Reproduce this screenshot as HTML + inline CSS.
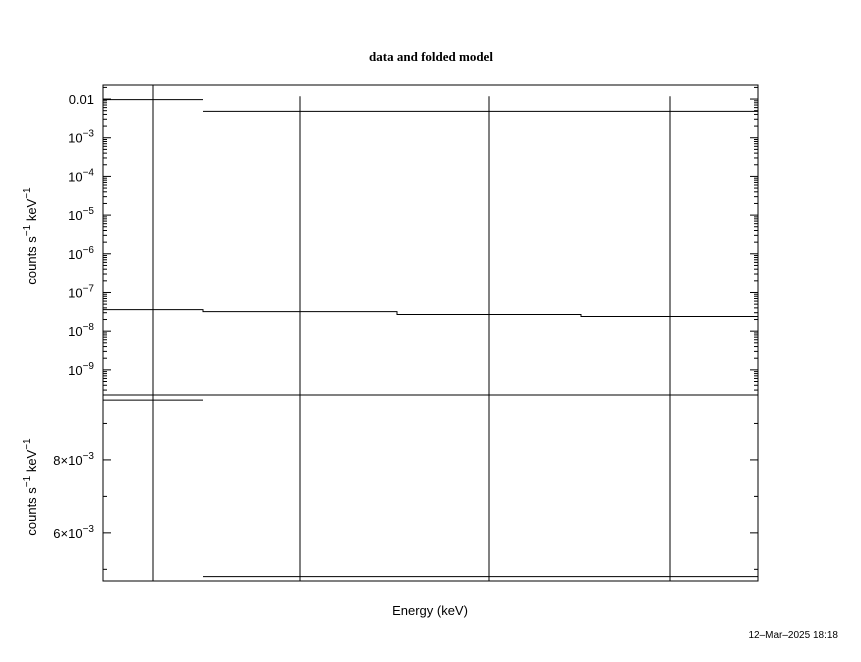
<!DOCTYPE html>
<html><head><meta charset="utf-8"><style>
body{margin:0;background:#fff;}
svg{display:block;font-family:"Liberation Sans",sans-serif;}
</style></head><body>
<svg id="chart" width="861" height="662" viewBox="0 0 861 662" xmlns="http://www.w3.org/2000/svg">
<rect width="861" height="662" fill="#fff"/>
<text x="431" y="61" text-anchor="middle" font-family="Liberation Serif,serif" font-size="13" font-weight="bold">data and folded model</text>
<text x="430" y="615" text-anchor="middle" font-size="13">Energy (keV)</text>
<text x="838" y="638" text-anchor="end" font-size="10">12–Mar–2025 18:18</text>
<text transform="translate(36,236) rotate(-90)" text-anchor="middle" font-size="13">counts s<tspan dy="-6" font-size="10">−1</tspan><tspan dy="6"> keV</tspan><tspan dy="-6" font-size="10">−1</tspan></text>
<text transform="translate(36,487) rotate(-90)" text-anchor="middle" font-size="13">counts s<tspan dy="-6" font-size="10">−1</tspan><tspan dy="6"> keV</tspan><tspan dy="-6" font-size="10">−1</tspan></text>
<g id="plot"></g>
</svg>
<script>
// data
const dataBinEdges = [0, 1, 6.55];
const dataValues = [9.64e-3, 4.8e-3];
const errX = [0.5, 1.97, 3.86, 5.67];
const errHigh = [0.05, 0.0118, 0.0118, 0.0118];
const errLow = [1e-12, 1e-12, 1e-12, 1e-12];
const modelBinEdges = [0, 1, 2.94, 4.78, 6.55];
const modelValues = [3.6e-8, 3.2e-8, 2.7e-8, 2.4e-8];
const topTickExps = [-2, -3, -4, -5, -6, -7, -8, -9];
const topTickLabels = ["0.01", "10", "10", "10", "10", "10", "10", "10"];
const bottomTickVals = [6e-3, 8e-3];
const bottomTickLabels = ["6×10", "8×10"];

const L = 103, R = 758, T1 = 85, B1 = 395, T2 = 395, B2 = 581;
const xDom = [0, 6.55];
const logDom = [-9.65, -1.637];
const linDom = [4.68e-3, 9.78e-3];
const xS = v => L + (v - xDom[0]) / (xDom[1] - xDom[0]) * (R - L);
const yTop = v => { const l = Math.log10(v); return B1 - (l - logDom[0]) / (logDom[1] - logDom[0]) * (B1 - T1); };
const yBot = v => B2 - (v - linDom[0]) / (linDom[1] - linDom[0]) * (B2 - T2);
const clamp = (y, a, b) => Math.max(a, Math.min(b, y));

const NS = "http://www.w3.org/2000/svg";
const g = document.getElementById('plot');
function ln(x1, y1, x2, y2, name) {
  const e = document.createElementNS(NS, 'line');
  e.setAttribute('x1', x1); e.setAttribute('y1', y1); e.setAttribute('x2', x2); e.setAttribute('y2', y2);
  e.setAttribute('stroke', '#000'); e.setAttribute('stroke-width', '1');
  
  
  g.appendChild(e); return e;
}
function txt(x, y, s, sup, name) {
  const e = document.createElementNS(NS, 'text');
  e.setAttribute('x', x); e.setAttribute('y', y); e.setAttribute('text-anchor', 'end'); e.setAttribute('font-size', '13');
  e.textContent = s;
  if (sup) { const t = document.createElementNS(NS, 'tspan'); t.setAttribute('dy', '-6'); t.setAttribute('font-size', '10'); t.textContent = sup; e.appendChild(t); }
  
  
  g.appendChild(e);
}
// frames
const f1 = document.createElementNS(NS, 'rect');
f1.setAttribute('x', L); f1.setAttribute('y', T1); f1.setAttribute('width', R - L); f1.setAttribute('height', B1 - T1);
f1.setAttribute('fill', 'none'); f1.setAttribute('stroke', '#000');


g.appendChild(f1);
const f2 = document.createElementNS(NS, 'rect');
f2.setAttribute('x', L); f2.setAttribute('y', T2); f2.setAttribute('width', R - L); f2.setAttribute('height', B2 - T2);
f2.setAttribute('fill', 'none'); f2.setAttribute('stroke', '#000');


g.appendChild(f2);
// top log ticks
for (let e = -10; e <= -1; e++) {
  for (let m = 1; m <= 9; m++) {
    const v = m * Math.pow(10, e); const y = yTop(v);
    if (y < T1 || y > B1) continue;
    const len = m === 1 ? 8 : 4;
    ln(L, y, L + len, y, 'top-y-tick');
    ln(R, y, R - len, y, 'top-y-tick-right');
  }
}
topTickExps.forEach((e, i) => {
  const y = yTop(Math.pow(10, e));
  txt(94, y + 5, topTickLabels[i], i === 0 ? null : String(e).replace('-', '−'), 'top-y-tick-label');
});
// bottom linear ticks
for (let v = 5e-3; v <= 9.6e-3; v += 1e-3) {
  const y = yBot(v); const major = Math.abs((v * 1000) % 2) < 0.01;
  ln(L, y, L + (major ? 8 : 4), y, 'bottom-y-tick');
  ln(R, y, R - (major ? 8 : 4), y, 'bottom-y-tick-right');
}
bottomTickVals.forEach((v, i) => txt(94, yBot(v) + 5, bottomTickLabels[i], '−3', 'bottom-y-tick-label'));
// data steps
dataValues.forEach((v, i) => {
  ln(xS(dataBinEdges[i]), yTop(v), xS(dataBinEdges[i + 1]), yTop(v), 'top-data-bin');
  ln(xS(dataBinEdges[i]), yBot(v), xS(dataBinEdges[i + 1]), yBot(v), 'bottom-data-bin');
});
// error bars
errX.forEach((x, i) => {
  ln(xS(x), clamp(yTop(errHigh[i]), T1, B1), xS(x), clamp(yTop(errLow[i]), T1, B1), 'top-error-bar');
  ln(xS(x), clamp(yBot(errHigh[i]), T2, B2), xS(x), clamp(yBot(errLow[i]), T2, B2), 'bottom-error-bar');
});
// model steps
let path = '';
modelValues.forEach((v, i) => {
  const x1 = xS(modelBinEdges[i]), x2 = xS(modelBinEdges[i + 1]), y = yTop(v);
  path += (i === 0 ? 'M' : 'L') + x1 + ',' + y + 'L' + x2 + ',' + y;
});
const mp = document.createElementNS(NS, 'path');
mp.setAttribute('d', path); mp.setAttribute('fill', 'none'); mp.setAttribute('stroke', '#000');


g.appendChild(mp);
</script>
</body></html>
